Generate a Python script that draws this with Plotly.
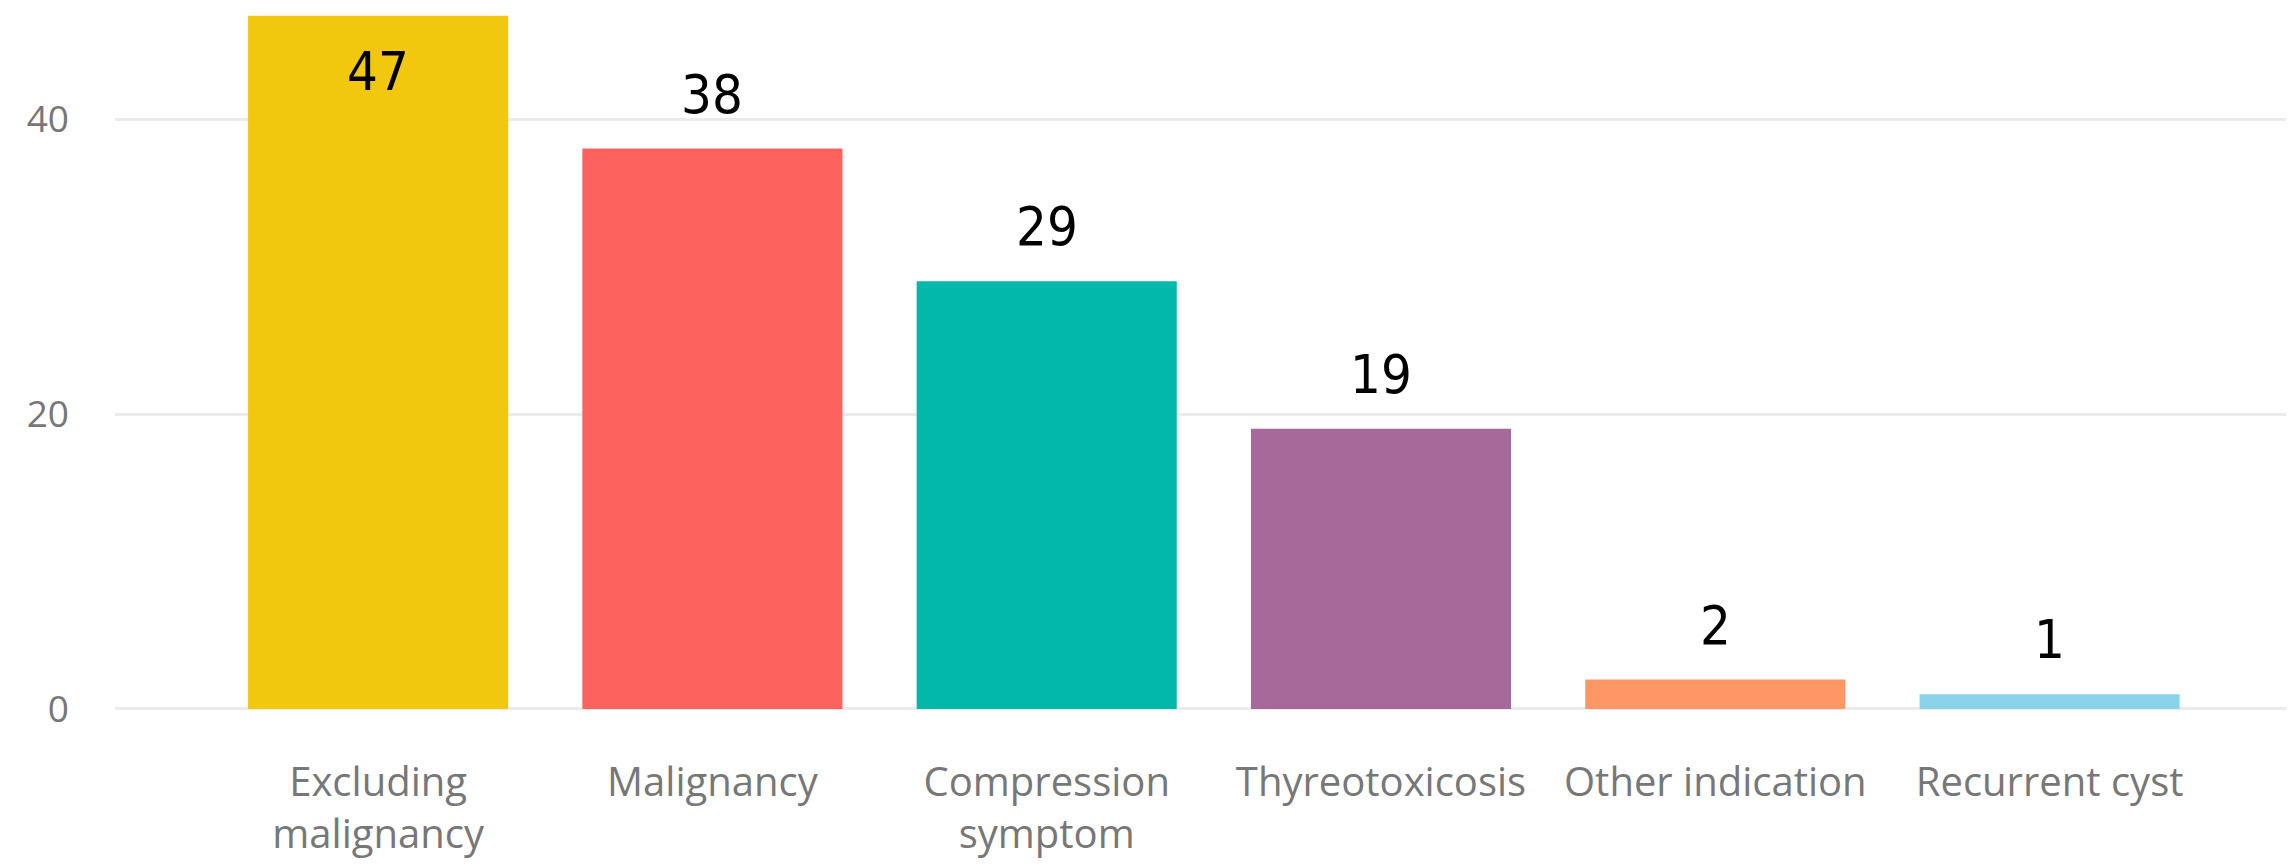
import plotly.graph_objects as go

categories = ["Excluding<br>malignancy", "Malignancy", "Compression<br>symptom",
              "Thyreotoxicosis", "Other indication", "Recurrent cyst"]
values = [47, 38, 29, 19, 2, 1]
colors = ["#F2C80F", "#FD625E", "#01B8AA", "#A66999", "#FE9666", "#8AD4EB"]
y_ticks = [0, 20, 40]

y_max = 47.53
y_min = -0.475

fig = go.Figure()
fig.add_trace(go.Bar(
    x=categories, y=values, marker=dict(color=colors, line=dict(width=0)),
    showlegend=False, hoverinfo="x+y",
))

label_font = dict(family="DejaVu Sans Condensed, Liberation Sans Narrow, Roboto", size=54, color="#000000")
for c, v in zip(categories, values):
    if v + 6 > y_max:
        fig.add_annotation(x=c, y=v, text=str(v), showarrow=False, yanchor="top",
                           yshift=-22, font=label_font)
    else:
        fig.add_annotation(x=c, y=v, text=str(v), showarrow=False, yanchor="bottom",
                           yshift=21, font=label_font)

x_tick_font = dict(family="Open Sans, Noto Sans, sans-serif", size=40, color="#777777")
y_tick_font = dict(family="Open Sans, Noto Sans, sans-serif", size=37, color="#777777")
fig.update_layout(
    width=2286, height=866,
    margin=dict(l=107, r=0, t=0, b=158),
    paper_bgcolor="white", plot_bgcolor="white",
    bargap=0.222,
    xaxis=dict(range=[-0.787, 5.731], showgrid=False, showline=False, zeroline=False,
               tickfont=x_tick_font, ticklabelstandoff=39, ticks=""),
    yaxis=dict(range=[y_min, y_max], tickvals=y_ticks, showgrid=True, gridcolor="#EBEBEB",
               gridwidth=3, zeroline=False, showline=False, tickfont=y_tick_font,
               ticklabelstandoff=45, ticks=""),
)

fig.write_html("out.html")
